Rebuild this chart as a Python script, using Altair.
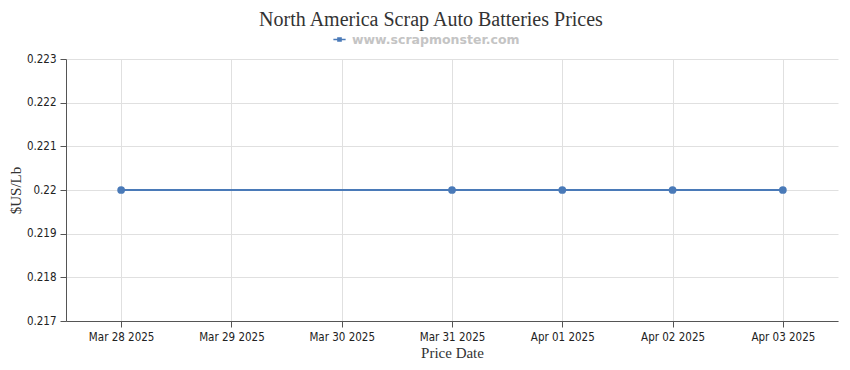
import altair as alt
import pandas as pd

dates = ["2025-03-28", "2025-03-31", "2025-04-01", "2025-04-02", "2025-04-03"]
prices = [0.22, 0.22, 0.22, 0.22, 0.22]
series_name = "www.scrapmonster.com"
tick_days = [(3, 28), (3, 29), (3, 30), (3, 31), (4, 1), (4, 2), (4, 3)]
y_ticks = [0.217, 0.218, 0.219, 0.22, 0.221, 0.222, 0.223]

df = pd.DataFrame({"date": dates, "price": prices, "series": [series_name] * len(dates)})

label_font = "DejaVu Sans Condensed"
serif = "Liberation Serif"
color = "#4a7ab8"

x_values = [alt.DateTime(year=2025, month=m, date=d, utc=True) for m, d in tick_days]
x_domain = [alt.DateTime(year=2025, month=3, date=27, hours=12, utc=True),
            alt.DateTime(year=2025, month=4, date=3, hours=12, utc=True)]

x = alt.X("date:T",
          scale=alt.Scale(type="utc", domain=x_domain),
          axis=alt.Axis(values=x_values, format="%b %d %Y", title="Price Date",
                        labelFont=label_font, labelFontSize=11.5, labelColor="#222",
                        titleFont=serif, titleFontSize=15, titleFontWeight="normal",
                        titleColor="#333", titlePadding=3,
                        grid=True, gridColor="#e0e0e0", domainColor="#555",
                        tickColor="#555", tickSize=6, labelPadding=4))
y = alt.Y("price:Q",
          scale=alt.Scale(domain=[0.217, 0.223], nice=False, zero=False),
          axis=alt.Axis(values=y_ticks, format=".3~f", title="$US/Lb",
                        labelFont=label_font, labelFontSize=11.5, labelColor="#222",
                        titleFont=serif, titleFontSize=15, titleFontWeight="normal",
                        titleColor="#333", titlePadding=3,
                        grid=True, gridColor="#e0e0e0", domainColor="#555",
                        tickColor="#555", tickSize=6, labelPadding=4))

chart = alt.Chart(df).mark_line(
    strokeWidth=2,
    point=alt.OverlayMarkDef(filled=True, size=60, opacity=1),
).encode(
    x=x,
    y=y,
    color=alt.Color("series:N",
                    scale=alt.Scale(range=[color]),
                    legend=alt.Legend(title=None, orient="none", legendX=267, legendY=-26,
                                      symbolType="M-1,-0.12 H1 V0.12 H-1 Z M-0.38,-0.38 H0.38 V0.38 H-0.38 Z",
                                      symbolSize=150, symbolStrokeWidth=0, symbolFillColor=color,
                                      labelOffset=6,
                                      labelFont="DejaVu Sans", labelFontSize=12.5, labelLimit=0,
                                      labelFontWeight="bold", labelColor="#c4c4c4")),
).properties(
    width=772,
    height=262,
    title=alt.TitleParams("North America Scrap Auto Batteries Prices", font=serif,
                          fontSize=20, fontWeight="normal", color="#333",
                          anchor="middle", offset=3, dx=-21),
    autosize=alt.AutoSizeParams(type="none"),
    padding={"left": 58, "top": 51, "right": 4, "bottom": 40},
).configure_view(stroke=None)

chart.save("out.html", embed_options={"renderer": "svg", "actions": False})
